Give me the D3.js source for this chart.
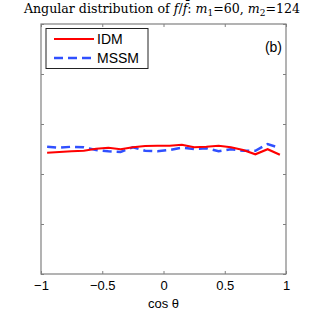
<!DOCTYPE html>
<html>
<head>
<meta charset="utf-8">
<script src="https://cdn.jsdelivr.net/npm/d3@7"></script>
<style>
  body { margin: 0; background: #fff; }
  text { font-family: "Liberation Sans", Arial, sans-serif; }
</style>
</head>
<body>
<div id="chart"></div>
<script>
// bin centres of cos(theta), 20 bins
let binCenters = [-0.95, -0.85, -0.75, -0.65, -0.55, -0.45, -0.35, -0.25, -0.15, -0.05,
                  0.05, 0.15, 0.25, 0.35, 0.45, 0.55, 0.65, 0.75, 0.85, 0.95];
let idmValues = [0.0485, 0.0488, 0.0491, 0.0493, 0.0501, 0.0505, 0.0499, 0.0507, 0.0512, 0.0513,
                 0.0513, 0.0517, 0.0507, 0.0509, 0.0513, 0.0507, 0.0496, 0.0479, 0.0499, 0.0477];
let mssmValues = [0.0509, 0.0505, 0.0509, 0.0507, 0.0496, 0.0491, 0.0488, 0.0507, 0.0493, 0.0491,
                  0.0496, 0.0505, 0.0500, 0.0503, 0.0491, 0.0499, 0.0493, 0.0493, 0.0520, 0.0504];
let xTicks = [-1, -0.5, 0, 0.5, 1];
let xTickLabels = ["\u22121", "\u22120.5", "0", "0.5", "1"];
let yTicks = [0, 0.02, 0.04, 0.06, 0.08, 0.1];

let width = 316,
    height = 316;
let margin = {top: 24, right: 30, bottom: 42, left: 41};

let svg = d3.select("#chart")
    .append("svg")
    .attr("width", width)
    .attr("height", height);

let x = d3.scaleLinear()
    .domain([-1, 1])
    .range([margin.left, width - margin.right]);

let y = d3.scaleLinear()
    .domain([0, 0.1])
    .range([height - margin.bottom, margin.top]);

let axisColor = "#808080";

// box
svg.append("rect")
    .attr("x", x(-1))
    .attr("y", y(0.1))
    .attr("width", x(1) - x(-1))
    .attr("height", y(0) - y(0.1))
    .attr("fill", "none")
    .attr("stroke", axisColor)
    .attr("stroke-width", 1.2);

// ticks, inward on all sides
function styleAxis(g) {
    g.select(".domain").remove();
    g.selectAll(".tick line").attr("stroke", axisColor);
}

svg.append("g")
    .attr("transform", `translate(0, ${y(0)})`)
    .call(d3.axisBottom(x).tickValues(xTicks).tickSize(-3).tickFormat((d, i) => xTickLabels[i]).tickPadding(7))
    .call(styleAxis)
    .selectAll("text")
    .attr("fill", "#000")
    .style("font-size", "13px");

svg.append("g")
    .attr("transform", `translate(0, ${y(0.1)})`)
    .call(d3.axisTop(x).tickValues(xTicks).tickSize(-3).tickFormat(""))
    .call(styleAxis);

svg.append("g")
    .attr("transform", `translate(${x(-1)}, 0)`)
    .call(d3.axisLeft(y).tickValues(yTicks).tickSize(-3).tickFormat(""))
    .call(styleAxis);

svg.append("g")
    .attr("transform", `translate(${x(1)}, 0)`)
    .call(d3.axisRight(y).tickValues(yTicks).tickSize(-3).tickFormat(""))
    .call(styleAxis);

// lines
let line = d3.line()
    .x((d, i) => x(binCenters[i]))
    .y(d => y(d));

svg.append("path")
    .datum(mssmValues)
    .attr("d", line)
    .attr("fill", "none")
    .attr("stroke", "#3050ff")
    .attr("stroke-width", 2.5)
    .attr("stroke-dasharray", "9,5");

svg.append("path")
    .datum(idmValues)
    .attr("d", line)
    .attr("fill", "none")
    .attr("stroke", "#ff0000")
    .attr("stroke-width", 2.2);

// legend
let legend = svg.append("g");
legend.append("rect")
    .attr("x", 46).attr("y", 28.5)
    .attr("width", 102).attr("height", 40)
    .attr("fill", "#fff")
    .attr("stroke", "#222")
    .attr("stroke-width", 1);
legend.append("line")
    .attr("x1", 54).attr("x2", 94).attr("y1", 39).attr("y2", 39)
    .attr("stroke", "#ff0000").attr("stroke-width", 2.2);
legend.append("line")
    .attr("x1", 54).attr("x2", 94).attr("y1", 58).attr("y2", 58)
    .attr("stroke", "#3050ff").attr("stroke-width", 2.5)
    .attr("stroke-dasharray", "9,5");
legend.append("text").attr("x", 97).attr("y", 44).style("font-size", "14px").text("IDM");
legend.append("text").attr("x", 97).attr("y", 63).style("font-size", "14px").text("MSSM");

// panel label
svg.append("text")
    .attr("x", 282).attr("y", 52)
    .attr("text-anchor", "end")
    .style("font-size", "14px")
    .text("(b)");

// x label
svg.append("text")
    .attr("x", (x(-1) + x(1)) / 2)
    .attr("y", 308)
    .attr("text-anchor", "middle")
    .style("font-size", "13px")
    .text("cos \u03b8");

// title
let title = svg.append("text")
    .attr("x", 162)
    .attr("y", 13)
    .attr("text-anchor", "middle")
    .style("font-family", "'DejaVu Serif', serif")
    .style("font-size", "12.6px");
title.append("tspan").text("Angular distribution of ");
title.append("tspan").style("font-style", "italic").text("f");
title.append("tspan").text("/");
title.append("tspan").style("font-style", "italic").text("f\u0304");
title.append("tspan").text(":  ");
title.append("tspan").style("font-style", "italic").text("m");
title.append("tspan").attr("dy", 3).style("font-size", "9px").text("1");
title.append("tspan").attr("dy", -3).text("=60, ");
title.append("tspan").style("font-style", "italic").text("m");
title.append("tspan").attr("dy", 3).style("font-size", "9px").text("2");
title.append("tspan").attr("dy", -3).text("=124");
</script>
</body>
</html>
